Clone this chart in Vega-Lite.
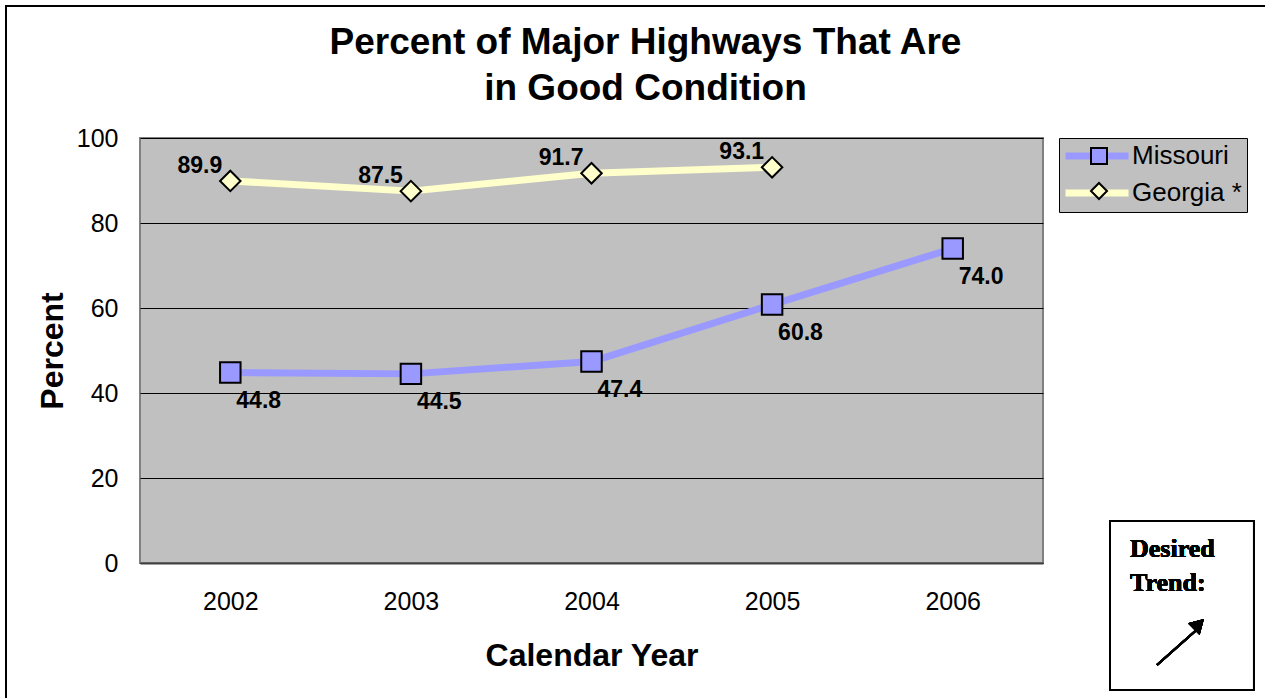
{
  "$schema": "https://vega.github.io/schema/vega-lite/v6.json",
  "autosize": {"type": "none"},
  "width": 903,
  "height": 425,
  "padding": {"left": 140, "top": 138, "right": 222, "bottom": 135},
  "background": "white",
  "title": {
    "text": ["Percent of Major Highways That Are", "in Good Condition"],
    "font": "Liberation Sans",
    "fontSize": 37,
    "fontWeight": "bold",
    "color": "black",
    "lineHeight": 46,
    "anchor": "middle",
    "frame": "group",
    "orient": "top",
    "baseline": "bottom",
    "offset": -140,
    "dx": 54
  },
  "config": {
    "view": {"fill": "#c0c0c0", "stroke": "#808080", "strokeWidth": 2},
    "font": "Liberation Sans"
  },
  "data": {
    "values": [
      {"year": 2002, "series": "Missouri", "value": 44.8},
      {"year": 2003, "series": "Missouri", "value": 44.5},
      {"year": 2004, "series": "Missouri", "value": 47.4},
      {"year": 2005, "series": "Missouri", "value": 60.8},
      {"year": 2006, "series": "Missouri", "value": 74.0},
      {"year": 2002, "series": "Georgia *", "value": 89.9},
      {"year": 2003, "series": "Georgia *", "value": 87.5},
      {"year": 2004, "series": "Georgia *", "value": 91.7},
      {"year": 2005, "series": "Georgia *", "value": 93.1}
    ]
  },
  "encoding": {
    "x": {
      "field": "year",
      "type": "quantitative",
      "scale": {"domain": [2001.5, 2006.5], "nice": false, "zero": false},
      "axis": {
        "values": [2002, 2003, 2004, 2005, 2006],
        "format": "d",
        "grid": false,
        "ticks": false,
        "domainColor": "#404040",
        "domainWidth": 2,
        "labelFont": "Liberation Sans",
        "labelFontSize": 25,
        "labelColor": "black",
        "labelPadding": 26,
        "title": "Calendar Year",
        "titleFont": "Liberation Sans",
        "titleFontSize": 32,
        "titleFontWeight": "bold",
        "titleColor": "black",
        "titlePadding": 26
      }
    },
    "y": {
      "field": "value",
      "type": "quantitative",
      "scale": {"domain": [0, 100], "nice": false},
      "axis": {
        "values": [0, 20, 40, 60, 80, 100],
        "grid": true,
        "gridColor": "#000000",
        "gridWidth": 1,
        "ticks": false,
        "domain": false,
        "labelFont": "Liberation Sans",
        "labelFontSize": 25,
        "labelColor": "black",
        "labelPadding": 22,
        "title": "Percent",
        "titleFont": "Liberation Sans",
        "titleFontSize": 32,
        "titleFontWeight": "bold",
        "titleColor": "black",
        "titlePadding": 7
      }
    }
  },
  "layer": [
    {
      "mark": {"type": "rect", "fill": null, "fillOpacity": 0, "stroke": "black", "strokeWidth": 1.5},
      "encoding": {
        "x": {"datum": 2000.758},
        "x2": {"datum": 2007.76},
        "y": {"datum": 131.06},
        "y2": {"datum": -33.4}
      }
    },
    {
      "mark": {"type": "line", "strokeWidth": 7, "strokeCap": "round", "strokeJoin": "round"},
      "encoding": {
        "stroke": {
          "field": "series",
          "type": "nominal",
          "sort": ["Missouri", "Georgia *"],
          "scale": {"range": ["#9999ff", "#ffffcc"]},
          "legend": {
            "orient": "none",
            "legendX": 919,
            "legendY": 0,
            "title": null,
            "padding": 5,
            "fillColor": "#c0c0c0",
            "strokeColor": "black",
            "symbolType": "M-3.5,0H3.5",
            "symbolSize": 324,
            "symbolStrokeWidth": 7,
            "symbolOffset": 20,
            "labelFont": "Liberation Sans",
            "labelFontSize": 26,
            "labelColor": "black",
            "labelOffset": 22,
            "rowPadding": 9
          }
        }
      }
    },
    {
      "mark": {"type": "point", "filled": true, "stroke": "black", "strokeWidth": 2, "opacity": 1},
      "encoding": {
        "fill": {
          "field": "series",
          "type": "nominal",
          "scale": {"domain": ["Missouri", "Georgia *"], "range": ["#9999ff", "#ffffcc"]},
          "legend": {
            "orient": "none",
            "legendX": 919,
            "legendY": 0,
            "title": null,
            "padding": 5,
            "symbolSize": 256,
            "symbolStrokeColor": "black",
            "symbolStrokeWidth": 2,
            "symbolOffset": 22,
            "labelExpr": "''",
            "labelFont": "Liberation Sans",
            "labelFontSize": 26,
            "labelOffset": 0,
            "rowPadding": 9
          }
        },
        "shape": {
          "field": "series",
          "type": "nominal",
          "scale": {"domain": ["Missouri", "Georgia *"], "range": ["square", "diamond"]}
        },
        "size": {"value": 420}
      }
    },
    {
      "transform": [{"filter": "datum.series === 'Missouri'"}],
      "mark": {"type": "text", "align": "left", "baseline": "middle", "dx": 6, "dy": 28, "font": "Liberation Sans", "fontSize": 23, "fontWeight": "bold", "color": "black"},
      "encoding": {"text": {"field": "value", "type": "quantitative", "format": ".1f"}}
    },
    {
      "transform": [{"filter": "datum.series === 'Georgia *'"}],
      "mark": {"type": "text", "align": "right", "baseline": "middle", "dx": -8, "dy": -15, "font": "Liberation Sans", "fontSize": 23, "fontWeight": "bold", "color": "black"},
      "encoding": {"text": {"field": "value", "type": "quantitative", "format": ".1f"}}
    },
    {
      "mark": {"type": "rect", "fill": "white", "stroke": "black", "strokeWidth": 2},
      "encoding": {
        "x": {"datum": 2006.871},
        "x2": {"datum": 2007.668},
        "y": {"datum": 9.88},
        "y2": {"datum": -29.88}
      }
    },
    {
      "mark": {"type": "text", "align": "left", "baseline": "middle", "font": "Liberation Serif", "fontSize": 26, "fontWeight": "bold", "color": "black"},
      "encoding": {
        "x": {"datum": 2006.982},
        "y": {"datum": 3.3},
        "text": {"value": "Desired"}
      }
    },
    {
      "mark": {"type": "text", "align": "left", "baseline": "middle", "font": "Liberation Serif", "fontSize": 26, "fontWeight": "bold", "color": "black"},
      "encoding": {
        "x": {"datum": 2006.982},
        "y": {"datum": -4.7},
        "text": {"value": "Trend:"}
      }
    },
    {
      "mark": {"type": "rule", "stroke": "black", "strokeWidth": 2},
      "encoding": {
        "x": {"datum": 2007.131},
        "y": {"datum": -24.0},
        "x2": {"datum": 2007.37},
        "y2": {"datum": -15.0}
      }
    },
    {
      "mark": {"type": "point", "shape": "triangle-up", "filled": true, "fill": "black", "stroke": "black", "strokeWidth": 1, "opacity": 1, "angle": 45, "size": 220},
      "encoding": {
        "x": {"datum": 2007.362},
        "y": {"datum": -14.4}
      }
    }
  ]
}
